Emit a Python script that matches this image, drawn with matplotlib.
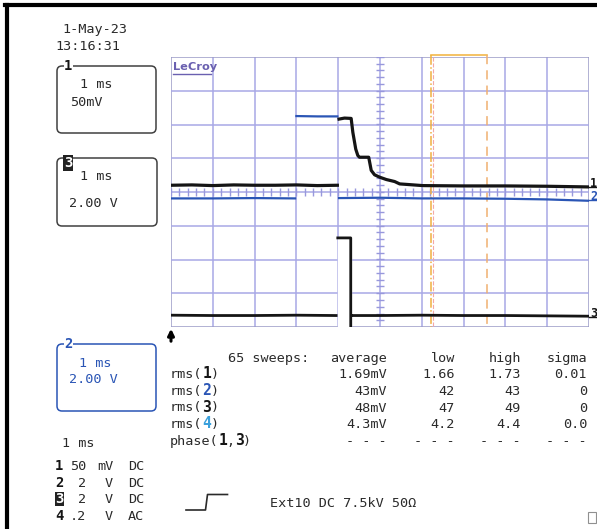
import matplotlib
matplotlib.use('Agg')
import matplotlib.pyplot as plt
from matplotlib.patches import FancyBboxPatch, Rectangle
import numpy as np

W, H = 597, 529

# ---- traces (time in ms, level in divisions from centre) ----
ch1_t = [0.0, 0.5, 1.0, 1.5, 2.0, 2.5, 3.0, 3.5, 3.98, np.nan,
         4.02, 4.15, 4.31, 4.35, 4.42, 4.47, 4.51, 4.73, 4.79, 4.87,
         4.99, 5.15, 5.35, 5.47, 6.02, 7.0, 8.0, 9.0, 10.0]
ch1_v = [0.20, 0.21, 0.19, 0.21, 0.20, 0.20, 0.21, 0.19, 0.20, np.nan,
         2.16, 2.19, 2.18, 1.77, 1.27, 1.08, 1.03, 1.03, 0.64, 0.51,
         0.44, 0.37, 0.31, 0.24, 0.19, 0.18, 0.18, 0.17, 0.15]

ch2_t = [0.0, 1.0, 2.0, 2.97, np.nan, 3.0, 3.5, 3.98, np.nan,
         4.02, 5.0, 6.0, 7.0, 8.0, 9.0, 10.0]
ch2_v = [-0.19, -0.19, -0.18, -0.19, np.nan, 2.25, 2.24, 2.24, np.nan,
         -0.18, -0.17, -0.19, -0.19, -0.20, -0.22, -0.26]

ch3_t = [0.0, 1.0, 2.0, 3.0, 3.95, np.nan, 3.99, 4.30, 4.30, np.nan,
         4.33, 5.0, 6.0, 7.0, 8.0, 9.0, 10.0]
ch3_v = [-3.65, -3.66, -3.66, -3.65, -3.66, np.nan, -1.36, -1.36, -4.0, np.nan,
         -3.66, -3.66, -3.65, -3.66, -3.66, -3.67, -3.68]

cursor_t = [6.23, 7.55]

# ---- readouts ----
ch_num = ['1', '2', '3', '4']
ch_scale = ['50', '2', '2', '.2']
ch_unit = ['mV', 'V', 'V', 'V']
ch_coupling = ['DC', 'DC', 'DC', 'AC']

stat_cols = ['average', 'low', 'high', 'sigma']
rms_avg = ['1.69mV', '43mV', '48mV', '4.3mV']
rms_low = ['1.66', '42', '47', '4.2']
rms_high = ['1.73', '43', '49', '4.4']
rms_sigma = ['0.01', '0', '0', '0.0']

BLACK = '#151515'
BLUE = '#2a55b5'
CYAN = '#3aa0dc'
GRID = '#a8a8e6'
TXT = '#2a2a2a'
MONO = 'DejaVu Sans Mono'
FS = 9.7

fig = plt.figure(figsize=(W / 100, H / 100), dpi=100)
fig.patch.set_facecolor('white')

# main graticule
ax = fig.add_axes([171 / W, 1 - 327 / H, 418 / W, 270 / H])
ax.set_xlim(0, 10)
ax.set_ylim(-4, 4)
ax.axis('off')
for i in range(11):
    ax.axvline(i, color=GRID if 0 < i < 10 else '#9c9cc8', lw=1.1, zorder=1)
for j in range(-4, 5):
    ax.axhline(j, color=GRID if -4 < j < 4 else '#9c9cc8', lw=1.1, zorder=1)
# centre-line minor ticks
ys = np.arange(-4, 4.001, 0.2)
ax.hlines(ys, 4.9, 5.1, color='#9898dc', lw=1, zorder=1)
xs = np.arange(0, 10.001, 0.2)
ax.vlines(xs, -0.12, 0.12, color='#9898dc', lw=1, zorder=1)

# blank column under the ch3 pulse
ax.fill_between([3.99, 4.30], -4, -1.36, color='white', zorder=2)

# cursors
ax.plot([cursor_t[0], cursor_t[1]], [4.06, 4.06], color='#f2b84a', lw=1.2,
        clip_on=False, zorder=3)
ax.plot([cursor_t[0]] * 2, [4.06, -4], color='#f0b040', lw=1.1, ls='-.',
        clip_on=False, zorder=3)
ax.plot([cursor_t[0] + 0.04] * 2, [4.0, -4], color='#f4a8a8', lw=0.8, ls='--',
        zorder=3)
ax.plot([cursor_t[1]] * 2, [4.06, -4], color='#f0b070', lw=1.1, ls=(0, (6, 4)),
        clip_on=False, zorder=3)

ax.plot(ch2_t, ch2_v, color=BLUE, lw=1.6, zorder=4)
ax.plot(ch1_t, ch1_v, color=BLACK, lw=2.3, zorder=5)
ax.plot(ch3_t, ch3_v, color=BLACK, lw=2.0, zorder=5)

# overlay in pixel coordinates
ov = fig.add_axes([0, 0, 1, 1], zorder=10)
ov.set_xlim(0, W)
ov.set_ylim(H, 0)
ov.axis('off')
ov.patch.set_visible(False)


def txt(x, y, s, ha='left', color=TXT, weight='normal', size=FS, **kw):
    # y is the vertical middle of capitals; place on a common baseline
    ov.text(x, y + 5, s, ha=ha, va='baseline', color=color, fontsize=size,
            family=MONO, fontweight=weight, **kw)


# page border
ov.plot([5, 597], [5, 5], color='black', lw=3)
ov.plot([6.5, 6.5], [5, 529], color='black', lw=3)

# LeCroy logo
ov.text(173, 67, 'LeCroy', ha='left', va='center', color='#6a60b0',
        fontsize=8.2, family='DejaVu Sans', fontweight='bold')
ov.plot([173, 211], [73.5, 73.5], color='#6a60b0', lw=1)

# trace markers at the right edge
txt(590, 182, '1', color=BLACK, weight='bold', size=8.5)
ov.plot([589, 597], [187, 187], color=BLACK, lw=1)
txt(590, 195, '2', color=BLUE, weight='bold', size=8.5)
ov.plot([589, 597], [200, 200], color=BLUE, lw=1)
txt(590, 312, '3', color=BLACK, weight='bold', size=8.5)
ov.plot([589, 597], [317, 317], color=BLACK, lw=1)
ov.annotate('', xy=(171, 326), xytext=(171, 344),
            arrowprops=dict(arrowstyle='-|>', color='black', lw=2.2,
                            mutation_scale=9))

# date / time
txt(62, 28, '1-May-23')
txt(55, 45, '13:16:31')


def box(x0, y0, x1, y1, color):
    ov.add_patch(FancyBboxPatch((x0, y0), x1 - x0, y1 - y0,
                                boxstyle='round,pad=0,rounding_size=5',
                                fc='none', ec=color, lw=1.1))


box(57, 66, 156, 133, '#404040')
txt(64, 65, '1', color=BLACK, weight='bold', size=10,
    bbox=dict(fc='white', ec='none', pad=0.3))
txt(80, 83, '1 ms')
txt(70, 101, '50mV')

box(57, 158, 157, 226, '#404040')
txt(64, 162, '3', color='white', weight='bold', size=10,
    bbox=dict(fc='#222222', ec='none', pad=0.4))
txt(80, 175, '1 ms')
txt(69, 202, '2.00 V')

box(57, 344, 156, 411, BLUE)
txt(64, 343, '2', color=BLUE, weight='bold', size=10,
    bbox=dict(fc='white', ec='none', pad=0.3))
txt(79, 362, '1 ms', color=BLUE)
txt(69, 378, '2.00 V', color=BLUE)

# channel list
txt(62, 442, '1 ms')
row_y = [465, 482, 498, 515]
for k in range(4):
    y = row_y[k]
    if ch_num[k] == '3':
        txt(55, y, ch_num[k], color='white', weight='bold', size=10,
            bbox=dict(fc='#222222', ec='none', pad=0.2))
    else:
        txt(55, y, ch_num[k], color=BLACK, weight='bold', size=10)
    txt(86, y, ch_scale[k], ha='right')
    txt(113, y, ch_unit[k], ha='right')
    txt(128, y, ch_coupling[k])

# statistics table
cw = 0.602 * FS * 100 / 72
col_right = [387, 455, 521, 587]
txt(228, 357, '65 sweeps:')
for c, name in enumerate(stat_cols):
    txt(col_right[c], 357, name, ha='right')
stat_y = [373, 390, 406.5, 423]
digit_col = [BLACK, BLUE, BLACK, CYAN]
for k in range(4):
    y = stat_y[k]
    txt(170, y, 'rms(')
    txt(170 + 4 * cw, y, ch_num[k], color=digit_col[k], weight='bold', size=10.5)
    txt(170 + 5 * cw, y, ')')
    txt(col_right[0], y, rms_avg[k], ha='right')
    txt(col_right[1], y, rms_low[k], ha='right')
    txt(col_right[2], y, rms_high[k], ha='right')
    txt(col_right[3], y, rms_sigma[k], ha='right')
txt(170, 440, 'phase(')
txt(170 + 6 * cw, 440, '1', color=BLACK, weight='bold', size=10.5)
txt(170 + 7 * cw, 440, ',')
txt(170 + 8 * cw, 440, '3', color=BLACK, weight='bold', size=10.5)
txt(170 + 9 * cw, 440, ')')
for c in range(4):
    txt(col_right[c], 440, '- - -', ha='right')

# trigger
ov.plot([186, 205.5, 207.5, 227.5], [510, 510, 494.5, 494.5], color=TXT, lw=1.2)
txt(270, 502, 'Ext10 DC 7.5kV 50Ω')
ov.add_patch(Rectangle((588, 512), 8, 11, fc='none', ec='#909090', lw=0.8))

fig.savefig('out.png', dpi=100)
